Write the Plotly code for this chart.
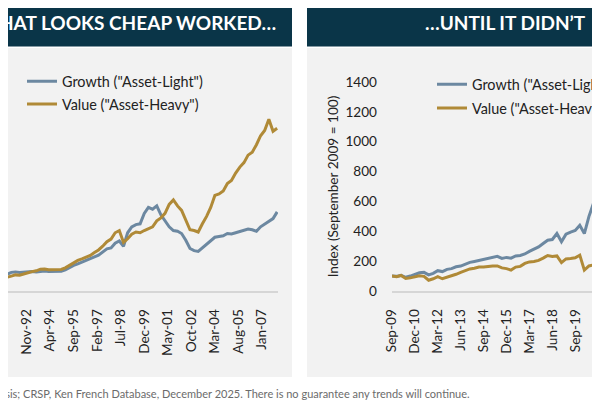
import pandas as pd
import plotly.graph_objects as go

# ---------------- data ----------------
# Left panel: quarterly, starting Mar-1991
left_growth = [100, 105, 112, 125, 128, 124, 127, 128, 130, 128, 132, 134,
               130, 129, 133, 132, 142, 158, 172, 182, 193, 206, 212, 228,
               240, 262, 282, 288, 320, 335, 300, 390, 430, 445, 450, 520,
               560, 548, 570, 510, 470, 430, 405, 400, 385, 340, 285, 270,
               265, 290, 310, 340, 360, 365, 370, 385, 382, 390, 400, 405,
               415, 410, 400, 430, 450, 470, 485, 530]
left_value = [85, 88, 92, 100, 108, 106, 112, 122, 130, 135, 146, 148,
              143, 144, 148, 144, 155, 172, 192, 205, 215, 226, 238, 258,
              275, 300, 330, 348, 390, 405, 325, 350, 380, 395, 390, 405,
              420, 430, 470, 490, 520, 580, 610, 570, 540, 470, 410, 405,
              395, 450, 500, 560, 640, 650, 670, 720, 740, 790, 830, 860,
              910, 930, 980, 1040, 1075, 1150, 1070, 1090]

# Right panel: quarterly, starting Sep-2009 (Index Sep-2009 = 100)
right_growth = [100, 98, 105, 92, 100, 112, 122, 125, 108, 118, 136, 130,
                145, 150, 162, 167, 180, 192, 198, 205, 210, 222, 228, 232,
                218, 225, 220, 235, 238, 248, 265, 280, 295, 318, 340, 345,
                385, 330, 380, 395, 405, 440, 385, 500, 590, 650, 690]
right_value = [100, 96, 104, 84, 88, 95, 102, 98, 72, 82, 96, 82,
               92, 98, 112, 125, 138, 148, 152, 160, 160, 166, 168, 168,
               155, 150, 140, 160, 165, 185, 195, 198, 205, 220, 238, 232,
               235, 190, 215, 218, 222, 240, 140, 168, 175, 240, 270]

left_tick_labels = ["Jun-91", "Nov-92", "Apr-94", "Sep-95", "Feb-97", "Jul-98",
                    "Dec-99", "May-01", "Oct-02", "Mar-04", "Aug-05", "Jan-07"]
right_tick_labels = ["Sep-09", "Dec-10", "Mar-12", "Jun-13", "Sep-14", "Dec-15",
                     "Mar-17", "Jun-18", "Sep-19", "Dec-20"]
y_tick_vals = [0, 200, 400, 600, 800, 1000, 1200, 1400]

series_names = ['Growth ("Asset-Light")', 'Value ("Asset-Heavy")']

left_dates = pd.date_range("1991-03-01", periods=len(left_growth), freq="3MS")
right_dates = pd.date_range("2009-09-01", periods=len(right_growth), freq="3MS")
left_tick_vals = pd.to_datetime(left_tick_labels, format="%b-%y")
right_tick_vals = pd.to_datetime(right_tick_labels, format="%b-%y")

# ---------------- layout helpers ----------------
# the page puts the figure 8 px in from the top-left corner of the window;
# positions below are target-picture pixels converted to paper fractions
W, H = 600, 400
OFF = 8
fx = lambda px: (px - OFF) / W
fy = lambda py: 1 - (py - OFF) / H

GROWTH = "#6c88a1"
VALUE = "#b08a37"
NAVY = "#0a3548"
PANEL = "#f2f2f2"
TXT = "#222222"
FONT = "Lato"

fig = go.Figure()
fig.add_trace(go.Scatter(x=left_dates, y=left_growth, name=series_names[0], mode="lines",
                         line=dict(color=GROWTH, width=3), xaxis="x", yaxis="y",
                         legend="legend", legendgroup="g"))
fig.add_trace(go.Scatter(x=left_dates, y=left_value, name=series_names[1], mode="lines",
                         line=dict(color=VALUE, width=3), xaxis="x", yaxis="y",
                         legend="legend", legendgroup="v"))
fig.add_trace(go.Scatter(x=right_dates, y=right_growth, name=series_names[0], mode="lines",
                         line=dict(color=GROWTH, width=3), xaxis="x2", yaxis="y2",
                         legend="legend2", legendgroup="g2"))
fig.add_trace(go.Scatter(x=right_dates, y=right_value, name=series_names[1], mode="lines",
                         line=dict(color=VALUE, width=3), xaxis="x2", yaxis="y2",
                         legend="legend2", legendgroup="v2"))

xcommon = dict(type="date", showline=True, linecolor="#d6d6d6", linewidth=1.5,
               showgrid=False, zeroline=False, ticks="", tickangle=-90, automargin=False,
               tickfont=dict(family=FONT, size=13.6, color=TXT), ticklabelstandoff=11)

fig.update_layout(
    width=W, height=H,
    margin=dict(l=0, r=0, t=0, b=0, pad=0, autoexpand=False),
    paper_bgcolor="white", plot_bgcolor="rgba(0,0,0,0)",
    font=dict(family=FONT, color=TXT),
    xaxis=dict(**xcommon, domain=[0, fx(278)],
               range=["1991-09-19", "2007-12-19"],
               tickvals=left_tick_vals, ticktext=left_tick_labels, anchor="y"),
    yaxis=dict(domain=[fy(291), fy(82)], range=[0, 1400], visible=False, anchor="x"),
    xaxis2=dict(**xcommon, domain=[fx(392), fx(600)],
                range=["2009-09-01", "2021-01-07"],
                tickvals=right_tick_vals, ticktext=right_tick_labels, anchor="y2"),
    yaxis2=dict(domain=[fy(291), fy(82)], range=[0, 1400], anchor="x2", automargin=False,
                showline=False, showgrid=False, zeroline=False, ticks="",
                tickvals=y_tick_vals, ticklabelstandoff=14,
                tickfont=dict(family=FONT, size=13.6, color=TXT),
                title=dict(text="Index (September 2009 = 100)",
                           font=dict(family=FONT, size=13.6, color=TXT), standoff=3)),
    legend=dict(x=fx(22), y=fy(65.5), xanchor="left", yanchor="top",
                bgcolor="rgba(0,0,0,0)", tracegroupgap=1,
                font=dict(family=FONT, size=14.4, color=TXT)),
    legend2=dict(x=fx(432), y=fy(68.5), xanchor="left", yanchor="top",
                 bgcolor="rgba(0,0,0,0)", tracegroupgap=2,
                 font=dict(family=FONT, size=14.4, color=TXT)),
    showlegend=True,
)

shapes = []
for x0, x1 in [(0, 292), (307, 610)]:
    shapes.append(dict(type="rect", xref="paper", yref="paper", layer="below",
                       x0=fx(x0), x1=fx(x1), y0=fy(46.5), y1=fy(0),
                       fillcolor=NAVY, line=dict(width=0)))
    shapes.append(dict(type="rect", xref="paper", yref="paper", layer="below",
                       x0=fx(x0), x1=fx(x1), y0=fy(377), y1=fy(48),
                       fillcolor=PANEL, line=dict(width=0)))
fig.update_layout(shapes=shapes)

fig.add_annotation(text="WHAT LOOKS CHEAP WORKED…", xref="paper", yref="paper",
                   x=fx(278), y=fy(23), xanchor="right", yanchor="middle", showarrow=False,
                   font=dict(family=FONT, size=19, color="white", weight="bold"))
fig.add_annotation(text="…UNTIL IT DIDN’T", xref="paper", yref="paper",
                   x=fx(588), y=fy(23), xanchor="right", yanchor="middle", showarrow=False,
                   font=dict(family=FONT, size=19, color="white", weight="bold"))
fig.add_annotation(text="Analysis; CRSP, Ken French Database, December 2025. There is no guarantee any trends will continue.",
                   xref="paper", yref="paper", x=fx(472), y=fy(393),
                   xanchor="right", yanchor="middle", showarrow=False,
                   font=dict(family=FONT, size=11, color="#6b6b6b"))

fig.write_html("out.html")
